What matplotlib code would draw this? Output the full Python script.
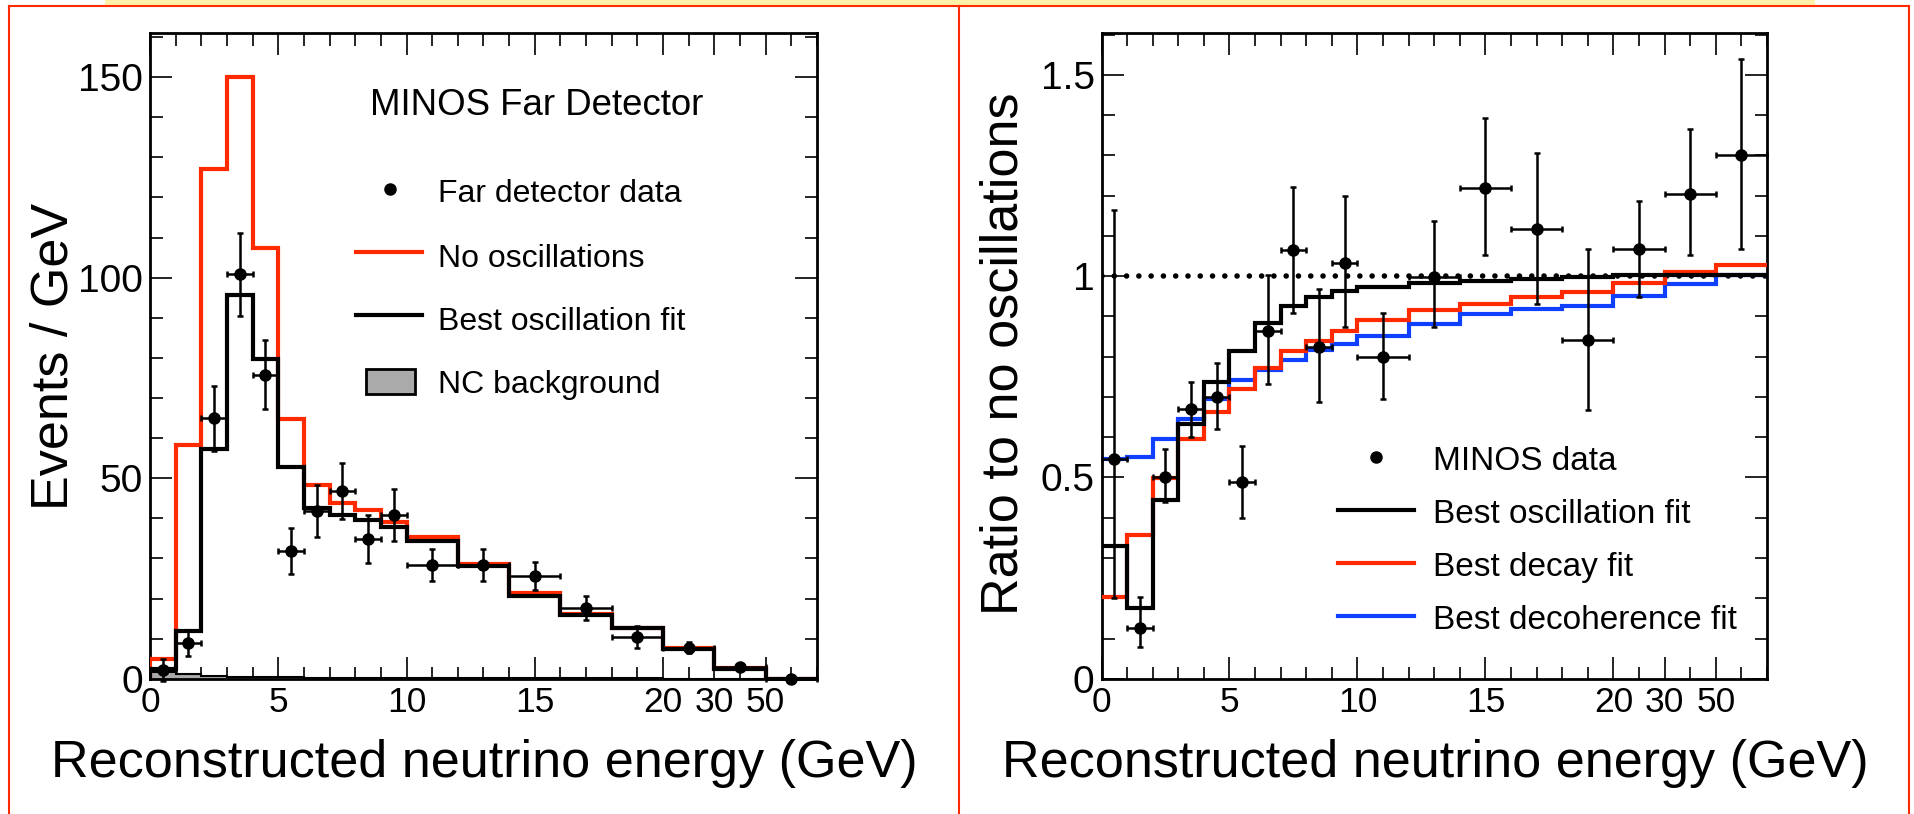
import numpy as np
import matplotlib
matplotlib.use('Agg')
import matplotlib.pyplot as plt
from matplotlib import font_manager
from matplotlib.lines import Line2D
from matplotlib.patches import Rectangle

plt.rcParams['font.family'] = ['Liberation Sans', 'DejaVu Sans']

# the original lettering is tall and narrow: use the narrow face when it exists
try:
    font_manager.findfont('Liberation Sans Narrow', fallback_to_default=False)
    TALL = ['Liberation Sans Narrow', 'Liberation Sans']
    K = 1 / 0.82
except ValueError:
    TALL = ['Liberation Sans', 'DejaVu Sans']
    K = 1.0

W, H = 1915, 814

# energy bin edges (GeV); above 20 GeV the axis squeezes bins into equal slots
edges = [0, 1, 2, 3, 4, 5, 6, 7, 8, 9, 10, 12, 14, 16, 18, 20, 30, 50, 200]
axis_energy = [0, 20, 30, 50, 200]
axis_slot = [0, 20, 22, 24, 26]

# left panel: far detector spectrum (events / GeV)
far_no_osc = [5.0, 58.3, 127.1, 150.0, 107.3, 64.7, 48.3, 43.9, 42.2, 39.1,
              35.4, 28.5, 21.5, 16.2, 12.7, 7.8, 2.7, 0.0]
far_best_fit = [2.4, 11.8, 57.2, 95.7, 79.7, 52.7, 42.5, 40.8, 39.6, 37.9,
                34.3, 28.0, 20.7, 15.8, 12.6, 7.5, 2.5, 0.0]
far_nc = [1.6, 1.1, 0.8, 0.5, 0.5, 0.4, 0.3, 0.3, 0.2, 0.2,
          0.2, 0.1, 0.1, 0.1, 0.1, 0.05, 0.05, 0.0]
far_data = [2.2, 8.9, 64.9, 100.8, 75.8, 31.8, 41.8, 46.8, 34.8, 40.8,
            28.4, 28.4, 25.7, 17.7, 10.4, 7.8, 2.9, 0.0]
far_err = [2.8, 3.2, 8.0, 10.4, 8.6, 5.7, 6.4, 7.0, 6.0, 6.5,
           4.0, 4.0, 3.5, 3.0, 2.8, 1.4, 0.8, 0.0]

# right panel: ratio to no oscillations
ratio_osc = [0.331, 0.177, 0.443, 0.634, 0.738, 0.815, 0.883, 0.926, 0.948, 0.962,
             0.974, 0.983, 0.988, 0.993, 0.998, 1.002, 1.003, 1.004]
ratio_decay = [0.204, 0.356, 0.498, 0.595, 0.663, 0.719, 0.773, 0.813, 0.840, 0.865,
               0.890, 0.915, 0.932, 0.949, 0.960, 0.982, 1.011, 1.028]
ratio_decoh = [0.545, 0.550, 0.595, 0.645, 0.694, 0.741, 0.766, 0.791, 0.817, 0.832,
               0.852, 0.882, 0.907, 0.918, 0.927, 0.950, 0.981, 1.004]
ratio_data = [0.547, 0.127, 0.501, 0.670, 0.700, 0.489, 0.865, 1.064, 0.825, 1.032,
              0.800, 0.999, 1.220, 1.116, 0.842, 1.067, 1.205, 1.301]
ratio_err_lo = [0.347, 0.047, 0.062, 0.070, 0.080, 0.089, 0.133, 0.155, 0.137, 0.159,
                0.106, 0.126, 0.168, 0.185, 0.175, 0.119, 0.153, 0.233]
ratio_err_hi = [0.618, 0.077, 0.069, 0.068, 0.084, 0.089, 0.137, 0.158, 0.144, 0.167,
                0.108, 0.137, 0.172, 0.191, 0.226, 0.120, 0.160, 0.238]

xtick_vals = [0, 5, 10, 15, 20, 30, 50]
xtick_labels = ['0', '5', '10', '15', '20', '30', '50']

RED = '#ff2a00'
BLUE = '#1040ff'


def fwd(e):
    return np.interp(e, axis_energy, axis_slot)


def inv(d):
    return np.interp(d, axis_slot, axis_energy)


def fx(x):
    return x / W


def fy(y):
    return 1 - y / H


e = np.array(edges, dtype=float)
centers = inv((fwd(e[:-1]) + fwd(e[1:])) / 2)
xerr = [centers - e[:-1], e[1:] - centers]


def style_axes(ax, ymax, ymajor, yminor, ylabels):
    ax.set_xscale('function', functions=(fwd, inv))
    ax.set_xlim(0, 200)
    ax.set_ylim(0, ymax)
    ax.set_xticks(xtick_vals, xtick_labels)
    minor = [v for v in inv(np.arange(0, 27)) if v not in xtick_vals]
    ax.set_xticks(minor, minor=True)
    ax.set_yticks(ymajor, ylabels)
    ax.set_yticks(yminor, minor=True)
    ax.tick_params(which='both', direction='in', top=True, right=True,
                   width=1.2, color='k')
    ax.tick_params(which='major', length=16)
    ax.tick_params(which='minor', length=9)
    ax.tick_params(axis='x', labelsize=25.5 * K, pad=5)
    ax.tick_params(axis='y', labelsize=28 * K, pad=5)
    for lab in ax.get_xticklabels() + ax.get_yticklabels():
        lab.set_family(TALL)
    for s in ax.spines.values():
        s.set_linewidth(2.0)


def data_points(ax, y, yerr):
    cont = ax.errorbar(centers, y, yerr=yerr, xerr=xerr, fmt='o', color='k',
                       ms=8, elinewidth=1.8, capsize=2.5, capthick=1.8, zorder=5)
    for art in cont.get_children():
        art.set_clip_on(False)


def label(x, y, s, size):
    fig.text(fx(x), fy(y), s, size=size * K, family=TALL, va='baseline')


fig = plt.figure(figsize=(W / 100, H / 100), dpi=100)

# page decoration: yellow strip and red panel frames
fig.add_artist(Rectangle((fx(105), fy(5.5)), fx(1710), 5.5 / H, transform=fig.transFigure,
                         facecolor='#fff2a8', edgecolor='none'))
for xs, ys in [([9.5, 1909], [5.5, 5.5]), ([9.5, 9.5], [5.5, 814]),
               ([959.3, 959.3], [5.5, 814]), ([1909, 1909], [5.5, 814])]:
    fig.add_artist(Line2D([fx(v) for v in xs], [fy(v) for v in ys], color=RED, lw=1.5))

# left panel
ax1 = fig.add_axes([fx(150), fy(678.8), 667 / W, 645.8 / H])
style_axes(ax1, 161.0, [0, 50, 100, 150], np.arange(0, 161, 10), ['0', '50', '100', '150'])
ax1.stairs(far_nc, edges, fill=True, color='#aaaaaa', zorder=2)
ax1.stairs(far_nc, edges, color='k', lw=1.5, zorder=2)
ax1.stairs(far_no_osc, edges, color=RED, lw=3, zorder=3)
ax1.stairs(far_best_fit, edges, color='k', lw=3, zorder=4)
data_points(ax1, far_data, far_err)

# right panel
ax2 = fig.add_axes([fx(1101.5), fy(678.8), 665.5 / W, 645.8 / H])
style_axes(ax2, 1.604, [0, 0.5, 1, 1.5], np.arange(0, 1.61, 0.1), ['0', '0.5', '1', '1.5'])
ax2.axhline(1.0, color='k', lw=4, ls=(0, (0.01, 2.2)), dash_capstyle='round', zorder=2)
ax2.stairs(ratio_decoh, edges, baseline=None, color=BLUE, lw=3, zorder=3)
ax2.stairs(ratio_decay, edges, baseline=None, color=RED, lw=3, zorder=3)
ax2.stairs(ratio_osc, edges, baseline=None, color='k', lw=3, zorder=4)
data_points(ax2, ratio_data, [ratio_err_lo, ratio_err_hi])

# axis titles
for xc in (484.7, 1435.8):
    fig.text(fx(xc), fy(777), 'Reconstructed neutrino energy (GeV)', size=37.5 * K,
             family=TALL, ha='center', va='baseline')
fig.text(fx(67.4), fy(356.5), 'Events / GeV', size=37.5, rotation=90,
         rotation_mode='anchor', ha='center', va='baseline')
fig.text(fx(1018), fy(354), 'Ratio to no oscillations', size=37.5, rotation=90,
         rotation_mode='anchor', ha='center', va='baseline')

# left legend
label(370.5, 115, 'MINOS Far Detector', 26.4)
fig.add_artist(Line2D([fx(390)], [fy(189)], marker='o', ms=8, color='k'))
label(438, 202, 'Far detector data', 23)
fig.add_artist(Line2D([fx(356), fx(422.5)], [fy(252)] * 2, color=RED, lw=3))
label(438, 267, 'No oscillations', 23)
fig.add_artist(Line2D([fx(356), fx(422.5)], [fy(315)] * 2, color='k', lw=3))
label(438, 330, 'Best oscillation fit', 23)
fig.add_artist(Rectangle((fx(365.6), fy(394)), 49 / W, 25 / H, transform=fig.transFigure,
                         facecolor='#aaaaaa', edgecolor='k', lw=2))
label(438, 393, 'NC background', 23)

# right legend
fig.add_artist(Line2D([fx(1376)], [fy(457)], marker='o', ms=8, color='k'))
label(1432.6, 470, 'MINOS data', 24)
for yl, col, lab in [(510, 'k', 'Best oscillation fit'), (563, RED, 'Best decay fit'),
                     (616, BLUE, 'Best decoherence fit')]:
    fig.add_artist(Line2D([fx(1337.7), fx(1414.3)], [fy(yl)] * 2, color=col, lw=3))
    label(1432.6, yl + 13, lab, 24)

fig.savefig('out.png', dpi=100)
